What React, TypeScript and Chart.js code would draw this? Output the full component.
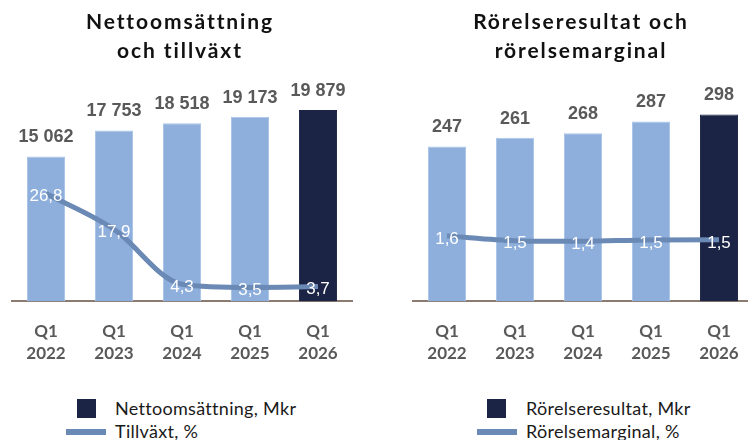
import React, { useEffect, useRef } from "react";
import { Chart, registerables } from "chart.js";

Chart.register(...registerables);

// ---------- data ----------
const categories = ["Q1 2022", "Q1 2023", "Q1 2024", "Q1 2025", "Q1 2026"];

const salesTitle = ["Nettoomsättning", "och tillväxt"];
const salesLabel = "Nettoomsättning, Mkr";
const salesValues = [15062, 17753, 18518, 19173, 19879];
const growthLabel = "Tillväxt, %";
const growthValues = [26.8, 17.9, 4.3, 3.5, 3.7];

const ebitTitle = ["Rörelseresultat och", "rörelsemarginal"];
const ebitLabel = "Rörelseresultat, Mkr";
const ebitValues = [247, 261, 268, 287, 298];
const marginLabel = "Rörelsemarginal, %";
const marginValues = [1.64, 1.47, 1.447, 1.497, 1.499];

// ---------- styles ----------
const LIGHT = "#8eafdc";
const LIGHT_BORDER = "#a9c4e8";
const DARK = "#1b2444";
const LINE = "#6a89b5";
const AXIS = "#8b7b70";
const GREY = "#595959";
const GEO = "Lato, 'DejaVu Sans', sans-serif";

const fmtThousands = (v: number) => String(v).replace(/\B(?=(\d{3})+(?!\d))/g, " ");
const fmtPct = (v: number) => v.toFixed(1).replace(".", ",");

function makeLabelPlugin() {
  return {
    id: "valueLabels",
    afterDatasetsDraw(chart: any) {
      const ctx = chart.ctx;
      chart.data.datasets.forEach((ds: any, i: number) => {
        const meta = chart.getDatasetMeta(i);
        const isLine = ds.type === "line";
        meta.data.forEach((el: any, j: number) => {
          const v = ds.data[j];
          ctx.save();
          ctx.textAlign = "center";
          ctx.textBaseline = "middle";
          if (isLine) {
            ctx.font = "17px 'Liberation Sans', Arial, sans-serif";
            ctx.fillStyle = "#ffffff";
            ctx.fillText(fmtPct(v), el.x, el.y + 3);
          } else {
            ctx.font = "bold 18px 'Liberation Sans', Arial, sans-serif";
            ctx.fillStyle = GREY;
            ctx.fillText(fmtThousands(v), el.x, el.y - 19);
          }
          ctx.restore();
        });
      });
    },
  };
}

interface PanelProps {
  left: number;
  padLeft: number;
  padRight: number;
  barLabel: string;
  barValues: number[];
  barMax: number;
  lineLabel: string;
  lineValues: number[];
  lineMin: number;
  lineMax: number;
}

function ChartPanel(p: PanelProps) {
  const ref = useRef<HTMLCanvasElement | null>(null);
  useEffect(() => {
    if (!ref.current) return;
    const chart = new Chart(ref.current, {
      type: "bar",
      data: {
        labels: categories.map((c) => c.split(" ")),
        datasets: [
          {
            type: "line",
            label: p.lineLabel,
            data: p.lineValues,
            yAxisID: "y2",
            borderColor: LINE,
            borderWidth: 5,
            pointRadius: 0,
            cubicInterpolationMode: "monotone",
            fill: false,
            order: 0,
          } as any,
          {
            type: "bar",
            label: p.barLabel,
            data: p.barValues,
            yAxisID: "y",
            backgroundColor: p.barValues.map((_, i) => (i === p.barValues.length - 1 ? DARK : LIGHT)),
            borderColor: p.barValues.map((_, i) => (i === p.barValues.length - 1 ? DARK : LIGHT_BORDER)),
            borderWidth: 1,
            borderSkipped: "bottom",
            categoryPercentage: 1,
            barPercentage: 0.56,
            order: 1,
          } as any,
        ],
      },
      options: {
        animation: false,
        responsive: false,
        devicePixelRatio: 1,
        layout: { padding: { left: p.padLeft, right: p.padRight, top: 80, bottom: 7 } },
        plugins: { legend: { display: false }, tooltip: { enabled: false }, title: { display: false } },
        scales: {
          x: {
            grid: { display: false, drawTicks: false },
            border: { display: true, color: AXIS, width: 2 },
            ticks: {
              color: GREY,
              padding: 19,
              maxRotation: 0,
              autoSkip: false,
              font: { family: GEO, weight: "bold", size: 17, lineHeight: 1.28 },
            },
          },
          y: { display: false, min: 0, max: p.barMax },
          y2: { display: false, min: p.lineMin, max: p.lineMax, position: "right" },
        },
      },
      plugins: [makeLabelPlugin()],
    } as any);
    return () => chart.destroy();
  }, []);
  return (
    <canvas
      ref={ref}
      width={374}
      height={390}
      style={{ position: "absolute", left: p.left, top: 0, width: 374, height: 390 }}
    />
  );
}

function Title({ lines, center }: { lines: string[]; center: number }) {
  return (
    <div
      style={{
        position: "absolute",
        left: center - 180,
        width: 360,
        top: 6,
        textAlign: "center",
        fontFamily: GEO,
        fontWeight: 700,
        fontSize: 21,
        lineHeight: "29px",
        color: "#111111",
        letterSpacing: 1.9,
        whiteSpace: "nowrap",
      }}
    >
      {lines.map((l, i) => (
        <div key={i}>{l}</div>
      ))}
    </div>
  );
}

function Legend({ squareX, lineX, textX, barLabel, lineLabel }: { squareX: number; lineX: number; textX: number; barLabel: string; lineLabel: string }) {
  const text: React.CSSProperties = {
    position: "absolute",
    left: textX,
    fontFamily: GEO,
    fontSize: 18,
    lineHeight: "20px",
    color: "#1a1a1a",
    whiteSpace: "nowrap",
    letterSpacing: 0.3,
  };
  return (
    <>
      <div style={{ position: "absolute", left: squareX, top: 399, width: 19, height: 19, background: DARK }} />
      <div style={{ ...text, top: 398 }}>{barLabel}</div>
      <div style={{ position: "absolute", left: lineX, top: 429, width: 40, height: 5.5, background: LINE }} />
      <div style={{ ...text, top: 421 }}>{lineLabel}</div>
    </>
  );
}

export default function App() {
  return (
    <div
      style={{
        position: "fixed",
        left: 0,
        top: 0,
        width: 748,
        height: 440,
        overflow: "hidden",
        background: "#ffffff",
      }}
    >
      <ChartPanel
        left={0}
        padLeft={12}
        padRight={22}
        barLabel={salesLabel}
        barValues={salesValues}
        barMax={23000}
        lineLabel={growthLabel}
        lineValues={growthValues}
        lineMin={0}
        lineMax={55}
      />
      <ChartPanel
        left={400}
        padLeft={13}
        padRight={21}
        barLabel={ebitLabel}
        barValues={ebitValues}
        barMax={353}
        lineLabel={marginLabel}
        lineValues={marginValues}
        lineMin={-0.7}
        lineMax={7.2}
      />
      <Title lines={salesTitle} center={180} />
      <Title lines={ebitTitle} center={581} />
      <Legend squareX={77} lineX={66} textX={115} barLabel={salesLabel} lineLabel={growthLabel} />
      <Legend squareX={487} lineX={477} textX={526} barLabel={ebitLabel} lineLabel={marginLabel} />
    </div>
  );
}
